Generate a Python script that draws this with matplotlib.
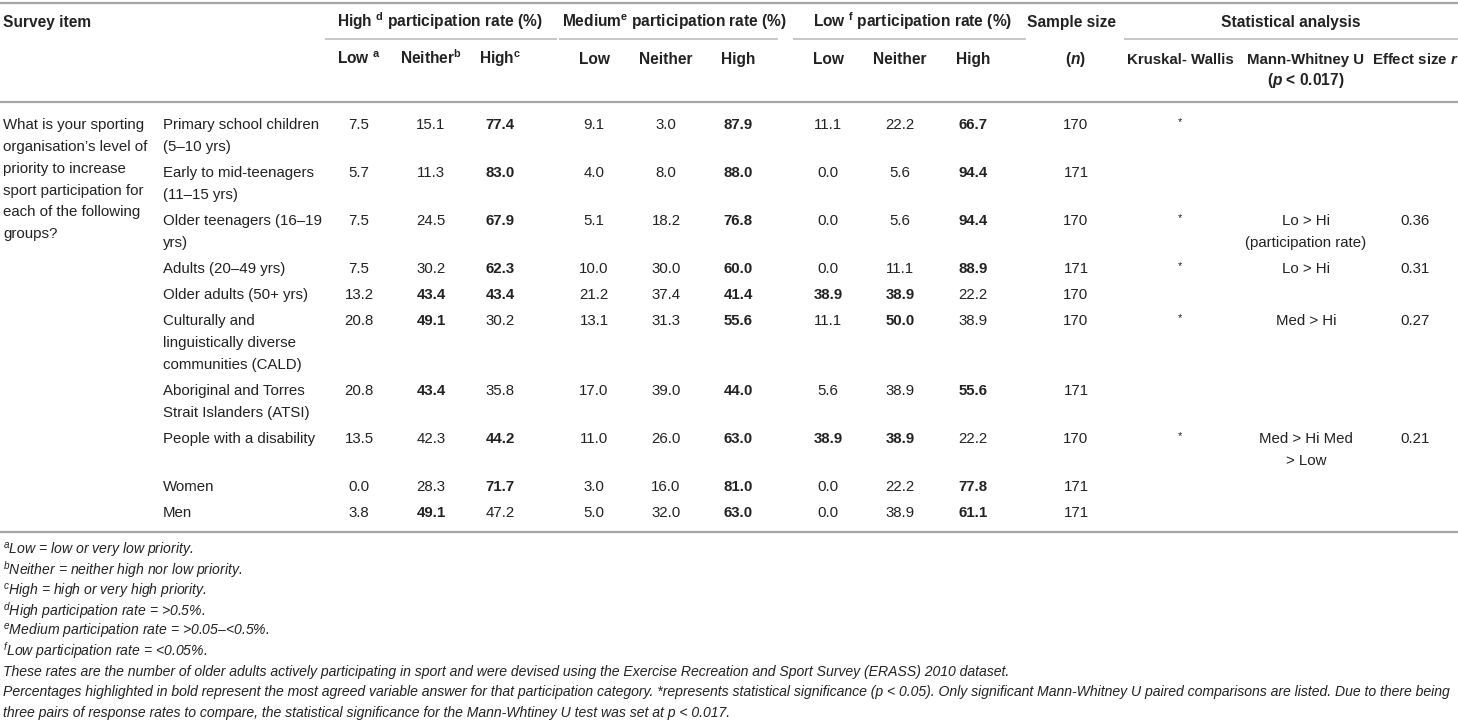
import matplotlib.pyplot as plt

plt.rcParams['font.family'] = ['Liberation Sans', 'DejaVu Sans']
plt.rcParams['mathtext.fontset'] = 'custom'
plt.rcParams['mathtext.rm'] = 'Liberation Sans'
plt.rcParams['mathtext.it'] = 'Liberation Sans:italic'
plt.rcParams['mathtext.bf'] = 'Liberation Sans:bold'
plt.rcParams['mathtext.bfit'] = 'Liberation Sans:italic:bold'

# table content
question = ("What is your sporting\norganisation\u2019s level of\npriority to increase\n"
            "sport participation for\neach of the following\ngroups?")
groups = ["Primary school children\n(5\u201310 yrs)",
          "Early to mid-teenagers\n(11\u201315 yrs)",
          "Older teenagers (16\u201319\nyrs)",
          "Adults (20\u201349 yrs)",
          "Older adults (50+ yrs)",
          "Culturally and\nlinguistically diverse\ncommunities (CALD)",
          "Aboriginal and Torres\nStrait Islanders (ATSI)",
          "People with a disability",
          "Women",
          "Men"]
# (Low, Neither, High) priority, per participation-rate category
high_rate = [(7.5, 15.1, 77.4), (5.7, 11.3, 83.0), (7.5, 24.5, 67.9), (7.5, 30.2, 62.3),
             (13.2, 43.4, 43.4), (20.8, 49.1, 30.2), (20.8, 43.4, 35.8), (13.5, 42.3, 44.2),
             (0.0, 28.3, 71.7), (3.8, 49.1, 47.2)]
medium_rate = [(9.1, 3.0, 87.9), (4.0, 8.0, 88.0), (5.1, 18.2, 76.8), (10.0, 30.0, 60.0),
               (21.2, 37.4, 41.4), (13.1, 31.3, 55.6), (17.0, 39.0, 44.0), (11.0, 26.0, 63.0),
               (3.0, 16.0, 81.0), (5.0, 32.0, 63.0)]
low_rate = [(11.1, 22.2, 66.7), (0.0, 5.6, 94.4), (0.0, 5.6, 94.4), (0.0, 11.1, 88.9),
            (38.9, 38.9, 22.2), (11.1, 50.0, 38.9), (5.6, 38.9, 55.6), (38.9, 38.9, 22.2),
            (0.0, 22.2, 77.8), (0.0, 38.9, 61.1)]
sample_n = [170, 171, 170, 171, 170, 170, 171, 170, 171, 171]
kruskal = ["*", "", "*", "*", "", "*", "", "*", "", ""]
mann_whitney = ["", "", "Lo > Hi\n(participation rate)", "Lo > Hi", "", "Med > Hi", "",
                "Med > Hi Med\n> Low", "", ""]
effect_r = ["", "", "0.36", "0.31", "", "0.27", "", "0.21", "", ""]

footnotes = [
    r"$^{\mathit{a}}$Low = low or very low priority.",
    r"$^{\mathit{b}}$Neither = neither high nor low priority.",
    r"$^{\mathit{c}}$High = high or very high priority.",
    r"$^{\mathit{d}}$High participation rate = >0.5%.",
    r"$^{\mathit{e}}$Medium participation rate = >0.05" + "\u2013" + "<0.5%.",
    r"$^{\mathit{f}}$Low participation rate = <0.05%.",
    "These rates are the number of older adults actively participating in sport and were devised "
    "using the Exercise Recreation and Sport Survey (ERASS) 2010 dataset.",
    "Percentages highlighted in bold represent the most agreed variable answer for that participation "
    "category. *represents statistical significance (p < 0.05). Only significant Mann-Whitney U paired "
    "comparisons are listed. Due to there being",
    "three pairs of response rates to compare, the statistical significance for the Mann-Whtiney U test "
    "was set at p < 0.017.",
]

# layout (pixels)
W, H = 1458, 721
FS = 10.8
FH = 11.2
FN = 10.12
TXT = '#222222'
RULE = '#a6a6a6'
LINE = 21.7
GAP = 4.5
BASE = 5.4
val_x = [359, 431, 500, 594, 666, 738, 828, 900, 973]
n_x, kw_x, mw_x, r_x = 1076, 1180, 1306, 1415

fig = plt.figure(figsize=(W / 100, H / 100), dpi=100)
ax = fig.add_axes([0, 0, 1, 1])
ax.set_xlim(0, W)
ax.set_ylim(H, 0)
ax.axis('off')


def put(x, y, s, ha='center', bold=False, italic=False, size=FS):
    for i, line in enumerate(s.split('\n')):
        ax.text(x, y + i * LINE + BASE, line, ha=ha, va='baseline', fontsize=size,
                fontweight='bold' if bold else 'normal',
                style='italic' if italic else 'normal', color=TXT)


# rules
ax.plot([0, W], [3, 3], color=RULE, lw=1.6, solid_capstyle='butt')
ax.plot([0, W], [102, 102], color=RULE, lw=1.6, solid_capstyle='butt')
ax.plot([0, W], [532, 532], color=RULE, lw=1.6, solid_capstyle='butt')
for x0, x1 in [(325, 557), (559, 778), (793, 1026), (1124, W)]:
    ax.plot([x0, x1], [39, 39], color='#bdbdbd', lw=1.2, solid_capstyle='butt')

# header
put(3, 22, "Survey item", ha='left', bold=True, size=FH)
put(440, 22, r"High $^{\mathbf{d}}$ participation rate (%)", bold=True, size=FH)
put(674, 22, r"Medium$^{\mathbf{e}}$ participation rate (%)", bold=True, size=FH)
put(913, 22, r"Low $^{\mathbf{f}}$ participation rate (%)", bold=True, size=FH)
put(1072, 22, "Sample size", bold=True, size=FH)
put(1291, 22, "Statistical analysis", bold=True, size=FH)
sub_heads = [r"Low $^{\mathbf{a}}$", r"Neither$^{\mathbf{b}}$", r"High$^{\mathbf{c}}$",
             "Low", "Neither", "High", "Low", "Neither", "High"]
for x, s in zip(val_x, sub_heads):
    put(x, 59, s, bold=True, size=FH)
put(n_x, 59, r"($\mathbfit{n}$)", bold=True, size=FH)
put(kw_x, 59, "Kruskal- Wallis", bold=True, size=FS)
put(mw_x, 59, "Mann-Whitney U", bold=True, size=FS)
put(r_x, 59, r"Effect size $\mathbfit{r}$", bold=True, size=FS)
put(mw_x, 80, r"($\mathbfit{p}$ < 0.017)", bold=True, size=FH)

# body
put(3, 124, question, ha='left')
y = 124
for i, g in enumerate(groups):
    put(163, y, g, ha='left')
    vals = list(high_rate[i]) + list(medium_rate[i]) + list(low_rate[i])
    for k, v in enumerate(vals):
        trip = vals[3 * (k // 3): 3 * (k // 3) + 3]
        put(val_x[k], y, f"{v:.1f}", bold=(v == max(trip)))
    put(n_x, y, str(sample_n[i]))
    if kruskal[i]:
        ax.text(kw_x, y - 2, kruskal[i], ha='center', va='center', fontsize=8, color=TXT)
    put(mw_x, y, mann_whitney[i])
    put(r_x, y, effect_r[i])
    nl = max(len(g.split('\n')), len(mann_whitney[i].split('\n')))
    y += nl * LINE + GAP

# footnotes
for j, f in enumerate(footnotes):
    ax.text(3, 550 + j * 20.2 + 5, f, ha='left', va='baseline', fontsize=FN,
            style='italic', color=TXT)

fig.savefig('out.png', dpi=100)
